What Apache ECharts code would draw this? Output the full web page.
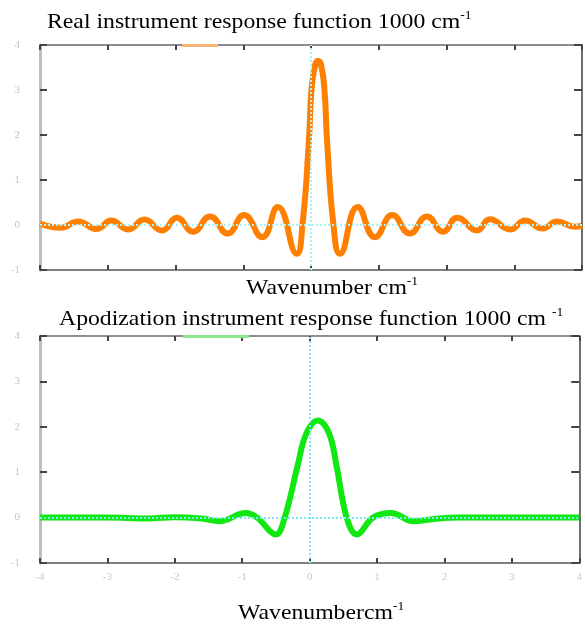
<!DOCTYPE html>
<html>
<head>
<meta charset="utf-8">
<script src="https://cdn.jsdelivr.net/npm/echarts@6/dist/echarts.min.js"></script>
<style>
html,body{margin:0;padding:0;background:#fff;}
#chart{width:585px;height:628px;}
</style>
</head>
<body>
<div id="chart"></div>
<script>
// ---- data ----
var xTicks = [-4, -3, -2, -1, 0, 1, 2, 3, 4];
var yTicks = [-1, 0, 1, 2, 3, 4];

var realX = [-4.0, -3.69, -3.44, -3.16, -2.95, -2.70, -2.46, -2.20, -1.98, -1.74, -1.49, -1.23, -0.99, -0.72, -0.49, -0.21, -0.126, -0.03, 0.007, 0.06, 0.103, 0.15, 0.199, 0.236, 0.332, 0.428, 0.69, 0.945, 1.20, 1.46, 1.71, 1.95, 2.16, 2.45, 2.64, 2.94, 3.16, 3.42, 3.63, 3.90, 4.0];
var realY = [0.03, -0.06, 0.08, -0.09, 0.10, -0.10, 0.12, -0.12, 0.16, -0.15, 0.19, -0.19, 0.22, -0.27, 0.40, -0.64, 0.0, 1.9, 3.0, 3.55, 3.65, 3.55, 3.0, 1.9, 0.0, -0.64, 0.40, -0.27, 0.22, -0.19, 0.19, -0.15, 0.16, -0.12, 0.13, -0.10, 0.10, -0.08, 0.08, -0.04, -0.01];

var apodX = [-4.0, -3.0, -2.4, -2.0, -1.6, -1.34, -0.95, -0.78, -0.50, -0.37, -0.18, -0.05, 0.12, 0.29, 0.40, 0.55, 0.70, 0.94, 1.21, 1.54, 1.85, 2.2, 3.0, 4.0];
var apodY = [0.0, 0.0, -0.02, 0.01, -0.02, -0.08, 0.10, 0.0, -0.37, 0.0, 1.13, 1.85, 2.14, 1.85, 1.13, 0.0, -0.37, 0.0, 0.10, -0.08, -0.03, 0.0, 0.0, 0.0];

var title1 = 'Real instrument response function 1000 cm';
var title2 = 'Apodization instrument response function 1000 cm ';
var xName1 = 'Wavenumber cm';
var xName2 = 'Wavenumbercm';
var supText = '-1';

function pairs(xs, ys) { return xs.map(function (x, i) { return [x, ys[i]]; }); }

var serif = '"Liberation Serif", "Times New Roman", serif';
var richStyle = {
  t: { fontFamily: serif, fontSize: 21, fontWeight: 'normal', lineHeight: 24, fill: '#000', color: '#000' },
  s: { fontFamily: serif, fontSize: 12, fontWeight: 'normal', lineHeight: 14, fill: '#000', color: '#000', verticalAlign: 'top' }
};
function mkText(main, x, y) {
  return {
    type: 'text', x: x, y: y, scaleX: 1.13, silent: true,
    style: {
      text: '{t|' + main + '}{s|' + supText + '}',
      rich: richStyle, verticalAlign: 'top', align: 'left', fill: '#000'
    }
  };
}

function xAxes(grid, showLabels) {
  return [
    {
      gridIndex: grid, type: 'value', position: 'bottom', min: xTicks[0], max: xTicks[xTicks.length - 1], interval: 1,
      axisLine: { onZero: false, lineStyle: { color: '#808080', width: 2 } },
      axisTick: { inside: true, length: 5, lineStyle: { color: '#444', width: 2 } },
      axisLabel: { show: showLabels, color: '#c8c8c8', fontFamily: serif, fontSize: 11, margin: 9 },
      splitLine: { show: false }
    },
    {
      gridIndex: grid, type: 'value', position: 'top', min: xTicks[0], max: xTicks[xTicks.length - 1], interval: 1,
      axisLine: { onZero: false, lineStyle: { color: '#8c8c8c', width: 2 } },
      axisTick: { inside: true, length: 5, lineStyle: { color: '#444', width: 2 } },
      axisLabel: { show: false },
      splitLine: { show: false }
    }
  ];
}
function yAxes(grid) {
  return [
    {
      gridIndex: grid, type: 'value', position: 'left', min: yTicks[0], max: yTicks[yTicks.length - 1], interval: 1,
      axisLine: { onZero: false, lineStyle: { color: '#bdbdbd', width: 3 } },
      axisTick: { inside: true, length: 7, lineStyle: { color: '#444', width: 2 } },
      axisLabel: { color: '#c4c4c4', fontFamily: serif, fontSize: 11, margin: 20 },
      splitLine: { show: false }
    },
    {
      gridIndex: grid, type: 'value', position: 'right', min: yTicks[0], max: yTicks[yTicks.length - 1], interval: 1,
      axisLine: { onZero: false, lineStyle: { color: '#707070', width: 2 } },
      axisTick: { inside: true, length: 8, lineStyle: { color: '#444', width: 2 } },
      axisLabel: { show: false },
      splitLine: { show: false }
    }
  ];
}

function cyanLines(color) {
  return {
    silent: true, symbol: 'none', label: { show: false },
    lineStyle: { color: color, type: 'dotted', width: 2 },
    data: [{ xAxis: 0 }, { yAxis: 0 }]
  };
}

var chart = echarts.init(document.getElementById('chart'), null, { renderer: 'canvas' });
chart.setOption({
  animation: false,
  backgroundColor: '#fff',
  graphic: [
    mkText(title1, 47, 10),
    mkText(xName1, 246, 276),
    mkText(title2, 59, 307),
    mkText(xName2, 238, 601)
  ],
  legend: [
    { data: ['Real'], left: 182, top: 44, itemWidth: 36, itemHeight: 3, icon: 'rect', padding: 0,
      formatter: function () { return ''; }, selectedMode: false,
      itemStyle: { color: '#f7b577' }, textStyle: { fontSize: 1 } },
    { data: ['Apod'], left: 183, top: 335, itemWidth: 66, itemHeight: 3, icon: 'rect', padding: 0,
      formatter: function () { return ''; }, selectedMode: false,
      itemStyle: { color: '#8fe88f' }, textStyle: { fontSize: 1 } }
  ],
  grid: [
    { left: 40, top: 45, width: 542, height: 225 },
    { left: 40, top: 336, width: 542, height: 227 }
  ],
  xAxis: xAxes(0, false).concat(xAxes(1, true)),
  yAxis: yAxes(0).concat(yAxes(1)),
  series: [
    {
      name: 'Real', type: 'line', xAxisIndex: 0, yAxisIndex: 0,
      data: pairs(realX, realY), smooth: 0.5, showSymbol: false,
      lineStyle: { color: '#ff8000', width: 6 }, itemStyle: { color: '#ff8000' },
      markLine: cyanLines('#a8f2fa'), z: 3
    },
    {
      name: 'Apod', type: 'line', xAxisIndex: 2, yAxisIndex: 2,
      data: pairs(apodX, apodY), smooth: 0.4, showSymbol: false,
      lineStyle: { color: '#11e811', width: 6 }, itemStyle: { color: '#11e811' },
      markLine: cyanLines('#7fe8f6'), z: 3
    }
  ]
});
</script>
</body>
</html>
